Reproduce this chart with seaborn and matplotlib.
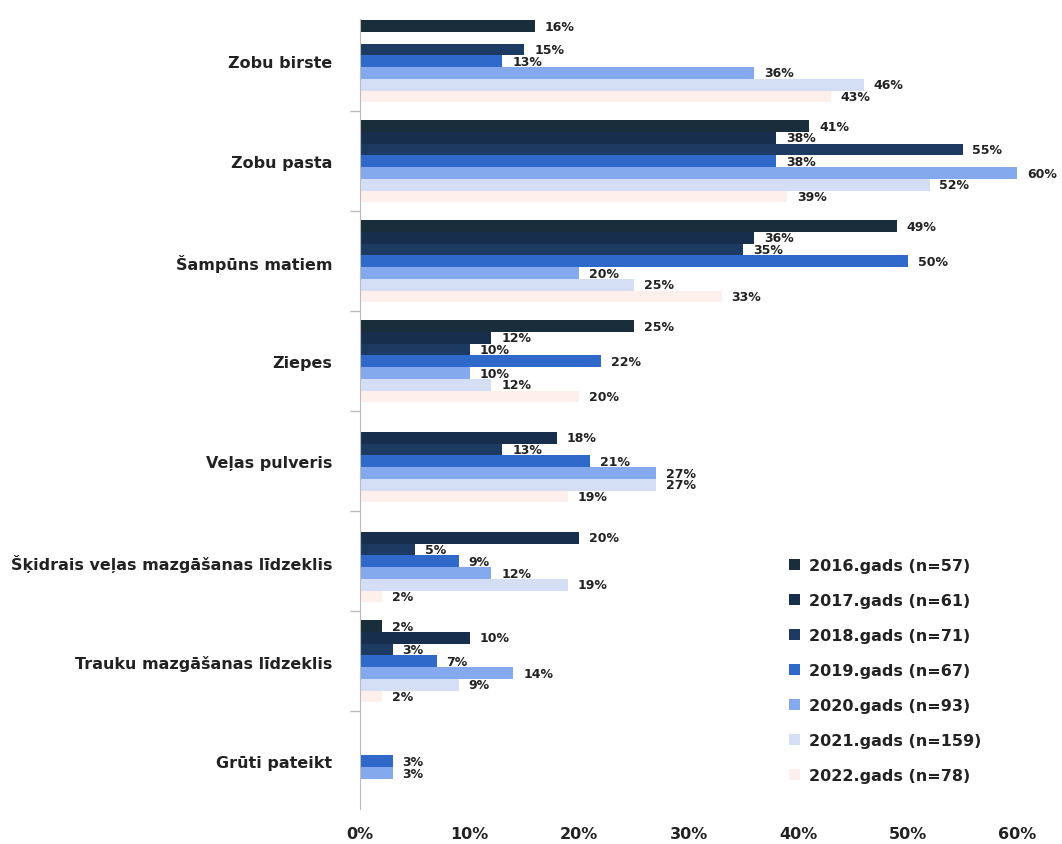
import matplotlib
matplotlib.use("Agg")
import matplotlib.pyplot as plt
import seaborn as sns
import pandas as pd
import numpy as np
from matplotlib.ticker import FixedLocator, FuncFormatter

# kategorijas (y ass)
categories = ["Zobu birste", "Zobu pasta", "Šampūns matiem", "Ziepes",
              "Veļas pulveris", "Šķidrais veļas mazgāšanas līdzeklis",
              "Trauku mazgāšanas līdzeklis", "Grūti pateikt"]

years = ["2016.gads (n=57)", "2017.gads (n=61)", "2018.gads (n=71)",
         "2019.gads (n=67)", "2020.gads (n=93)", "2021.gads (n=159)",
         "2022.gads (n=78)"]

# vērtības % (None = nav stabiņa)
v2016 = [16, 41, 49, 25, None, None, 2, None]
v2017 = [None, 38, 36, 12, 18, 20, 10, None]
v2018 = [15, 55, 35, 10, 13, 5, 3, None]
v2019 = [13, 38, 50, 22, 21, 9, 7, 3]
v2020 = [36, 60, 20, 10, 27, 12, 14, 3]
v2021 = [46, 52, 25, 12, 27, 19, 9, None]
v2022 = [43, 39, 33, 20, 19, 2, 2, None]

colors = ["#1a2d3a", "#172f4c", "#1d3a63", "#2f6acb", "#84a9ec", "#d4def4", "#fcefec"]

rows = []
for yr, vals in zip(years, [v2016, v2017, v2018, v2019, v2020, v2021, v2022]):
    for cat, v in zip(categories, vals):
        if v is not None:
            rows.append({"cat": cat, "year": yr, "val": v})
df = pd.DataFrame(rows)

sns.set_style("white")
plt.rcParams['font.family'] = ['DejaVu Sans']

fig = plt.figure(figsize=(10.62, 8.45), dpi=100)
ax = fig.add_axes([0.339, 0.041, 0.619, 0.935])

sns.barplot(data=df, y="cat", x="val", hue="year", order=categories,
            hue_order=years, palette=colors, orient="h", errorbar=None,
            width=0.82, saturation=1, ax=ax, linewidth=0)

for cont in ax.containers:
    ax.bar_label(cont, fmt="%.0f%%", padding=7, fontsize=9,
                 fontweight="bold", color="#222222")

ax.set_xlim(0, 60)
ax.set_ylim(7.48, -0.42)
ax.set_xticks(np.arange(0, 61, 10))
ax.xaxis.set_major_formatter(FuncFormatter(lambda x, p: f"{x:.0f}%"))
ax.set_xlabel("")
ax.set_ylabel("")
ax.tick_params(axis="x", length=0, labelsize=11.5, pad=12)
ax.tick_params(axis="y", which="major", length=0, labelsize=11.5, pad=20)
for lab in ax.get_xticklabels() + ax.get_yticklabels():
    lab.set_fontweight("bold")
    lab.set_color("#222222")
ax.yaxis.set_minor_locator(FixedLocator(np.arange(0.5, 8, 1)))
ax.tick_params(axis="y", which="minor", left=True, length=7, width=1,
               color="#bbbbbb", direction="out")

sns.despine(ax=ax, top=True, right=True, bottom=True)
ax.spines["left"].set_color("#bbbbbb")

leg = ax.legend(loc="lower left", bbox_to_anchor=(0.63, 0.015), frameon=False,
                fontsize=11.5, handlelength=0.7, handleheight=0.7,
                labelspacing=1.25, handletextpad=0.6)
for t in leg.get_texts():
    t.set_fontweight("bold")
    t.set_color("#222222")

fig.savefig("out.png", dpi=100)
